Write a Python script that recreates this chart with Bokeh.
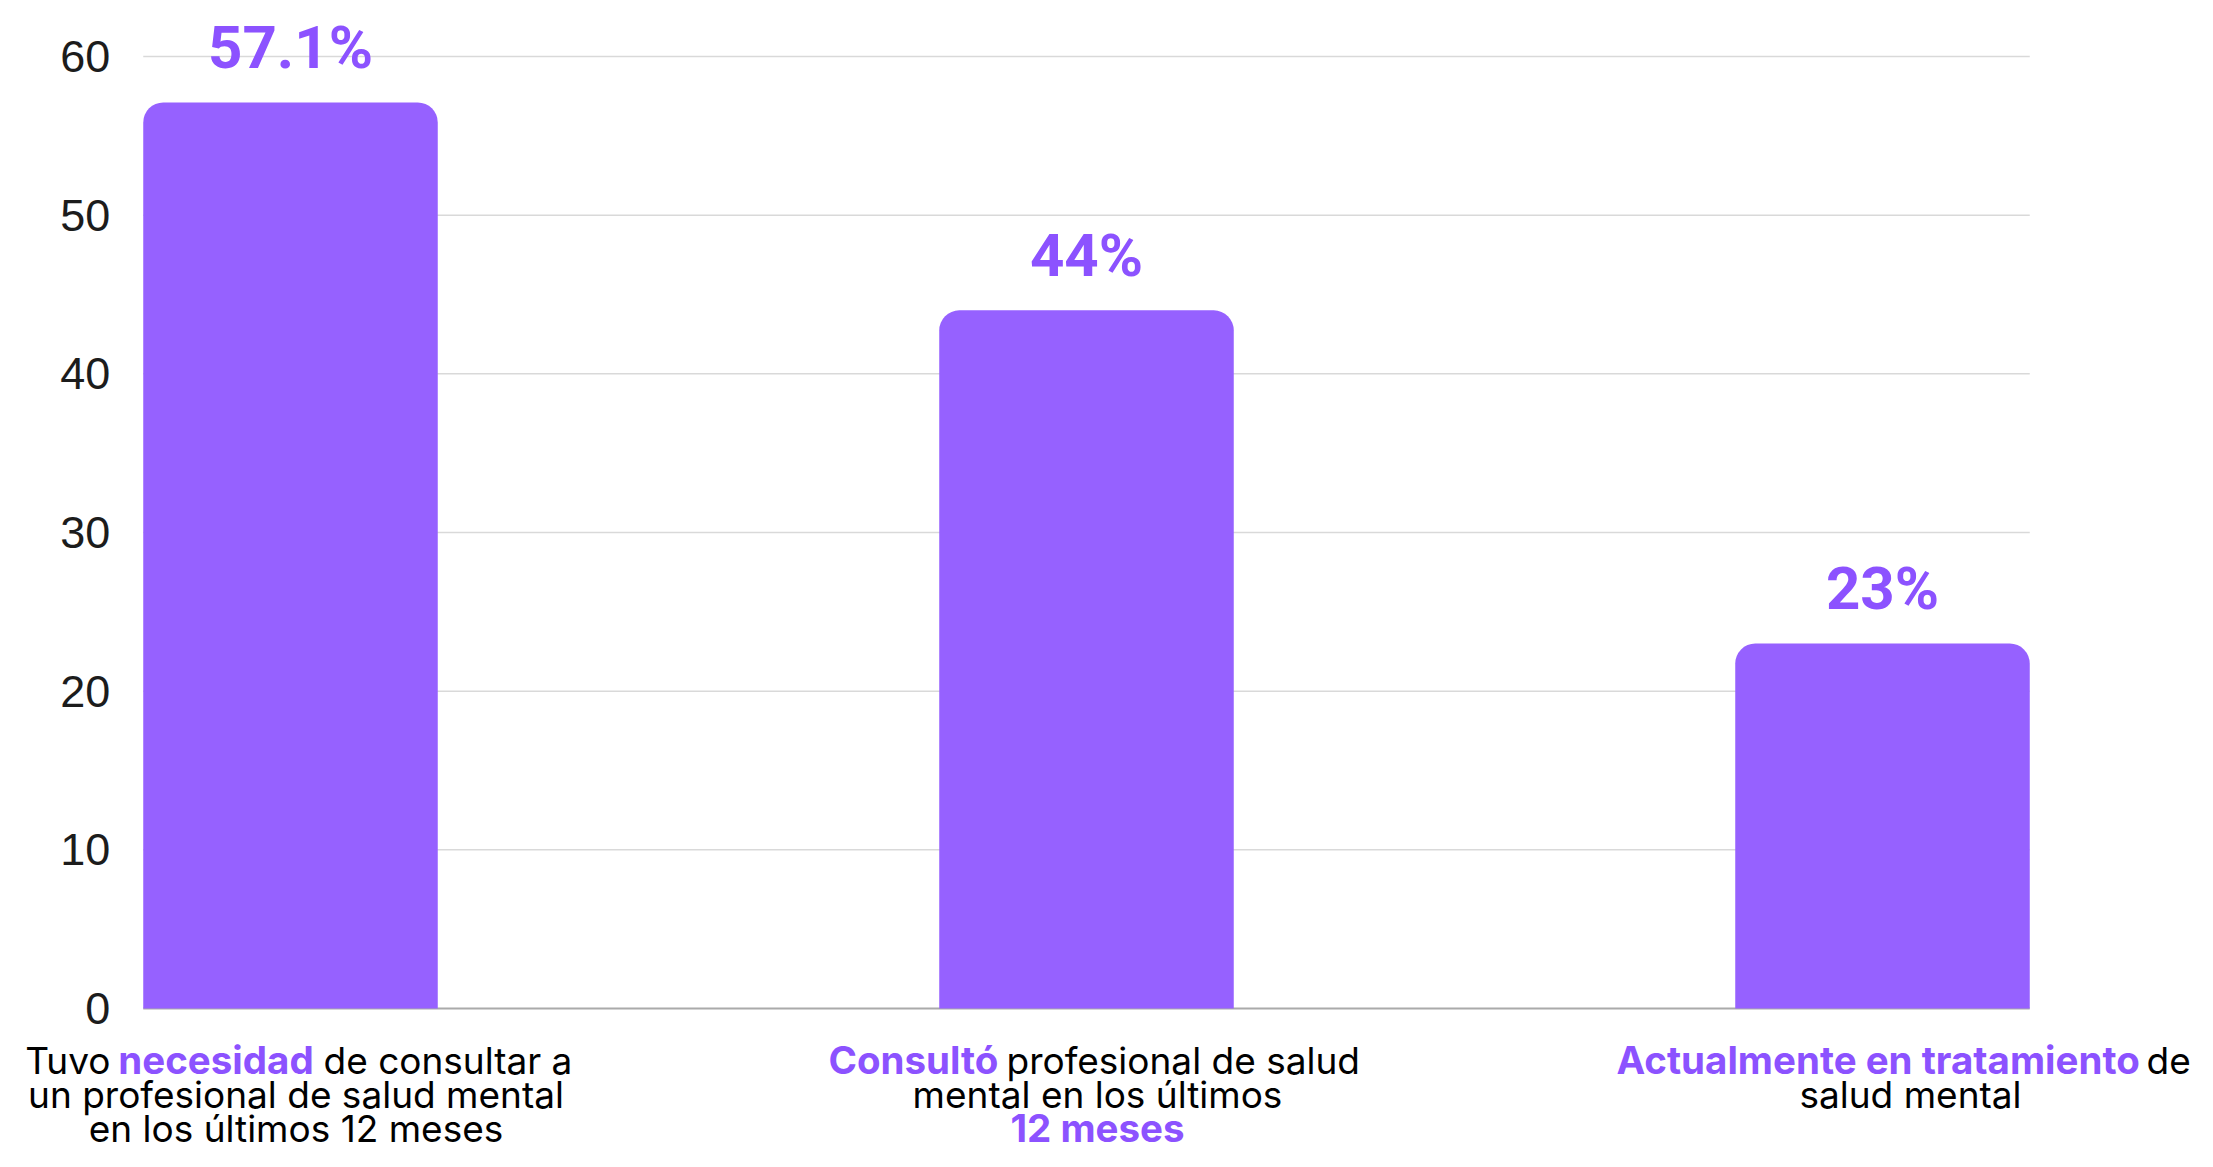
from bokeh.plotting import figure
from bokeh.models import Range1d
from bokeh.core.properties import value
from bokeh.embed import file_html
from bokeh.resources import INLINE

# ---------------- data ----------------
values = [57.1, 44, 23]
value_labels = ["57.1%", "44%", "23%"]
y_ticks = [0, 10, 20, 30, 40, 50, 60]
y_tick_labels = ["0", "10", "20", "30", "40", "50", "60"]
# category labels: lines made of (text, highlighted) pieces
label_lines = [
    [[("Tuvo", False), ("necesidad", True), ("de consultar a", False)],
     [("un profesional de salud mental", False)],
     [("en los últimos 12 meses", False)]],
    [[("Consultó", True), ("profesional de salud", False)],
     [("mental en los últimos", False)],
     [("12 meses", True)]],
    [[("Actualmente en tratamiento", True), ("de", False)],
     [("salud mental", False)]],
]

# ---------------- style / layout ----------------
BAR = "#9661FF"
PURPLE = "#8C52FF"
BAR_W = 0.37
W, H = 2197, 1151

# pixel geometry of the plotting area
PX_X = 796.0            # pixels per category step
X0_PX = 290.0           # pixel position of the first category centre
PX_Y = 952.0 / 60.0     # pixels per value unit
Y0_PX = 1008.0          # pixel position (from top) of value 0
MID = 0.36              # cap-middle above baseline, in em

xs = list(range(len(values)))
x_lo = -X0_PX / PX_X
x_hi = x_lo + W / PX_X
y_hi = Y0_PX / PX_Y
y_lo = -(H - Y0_PX) / PX_Y

p = figure(width=W, height=H, output_backend="svg", toolbar_location=None,
           x_range=Range1d(x_lo, x_hi), y_range=Range1d(y_lo, y_hi),
           min_border=0, min_border_left=0, min_border_right=0,
           min_border_top=0, min_border_bottom=0)
p.outline_line_color = None
p.axis.visible = False
p.grid.visible = False
p.background_fill_color = "white"
p.border_fill_color = "white"

gx0 = xs[0] - BAR_W / 2
gx1 = xs[-1] + BAR_W / 2

# grid lines (light) and baseline (darker)
p.segment(x0=[gx0] * (len(y_ticks) - 1), x1=[gx1] * (len(y_ticks) - 1),
          y0=y_ticks[1:], y1=y_ticks[1:], line_color="#d9d9d9", line_width=1.5)
p.segment(x0=[gx0], x1=[gx1], y0=[y_ticks[0]], y1=[y_ticks[0]],
          line_color="#aaaaaa", line_width=2)

# y tick labels
p.text(x=[gx0 - 33 / PX_X] * len(y_ticks), y=y_ticks, text=y_tick_labels,
       text_align="right", text_baseline="middle",
       text_font=value("Liberation Sans"), text_font_size=value("45px"),
       text_color="#1c1c1c")

# bars
p.vbar(x=xs, top=values, width=BAR_W, fill_color=BAR, line_color=None,
       border_radius=(20, 20, 0, 0))

# value labels (baseline 33px above the bar top)
VL_SIZE = 60
p.text(x=xs, y=[v + (33 + MID * VL_SIZE) / PX_Y for v in values], text=value_labels,
       text_align="center", text_baseline="middle",
       text_font=value("Roboto"), text_font_style="bold",
       text_font_size=value(f"{VL_SIZE}px"), text_color=PURPLE)

# category-label anchors: (align, pixel offset from bar centre) for each piece
anchors = [
    [[("right", -180), ("center", -74.5), ("left", 33)],
     [("center", 5.5)],
     [("center", 5.5)]],
    [[("left", -258), ("left", -80)],
     [("center", 11)],
     [("center", 11)]],
    [[("left", -266), ("left", 264)],
     [("center", 28)]],
]
line_px = [65, 99, 133]   # baseline distance below value 0, px
REG_SIZE, BOLD_SIZE = 37, 38.5

for i, lines in enumerate(label_lines):
    for li, pieces in enumerate(lines):
        for k, (txt, hi) in enumerate(pieces):
            size = BOLD_SIZE if hi else REG_SIZE
            yy = -(line_px[li] - MID * size) / PX_Y
            align, dx = anchors[i][li][k]
            p.text(x=[xs[i] + dx / PX_X], y=[yy], text=[txt],
                   text_align=align, text_baseline="middle",
                   text_font=value("Inter"),
                   text_font_size=value(f"{size}px"),
                   text_font_style="bold" if hi else "normal",
                   text_color=PURPLE if hi else "#000000")

open("out.html", "w").write(file_html(p, INLINE))
